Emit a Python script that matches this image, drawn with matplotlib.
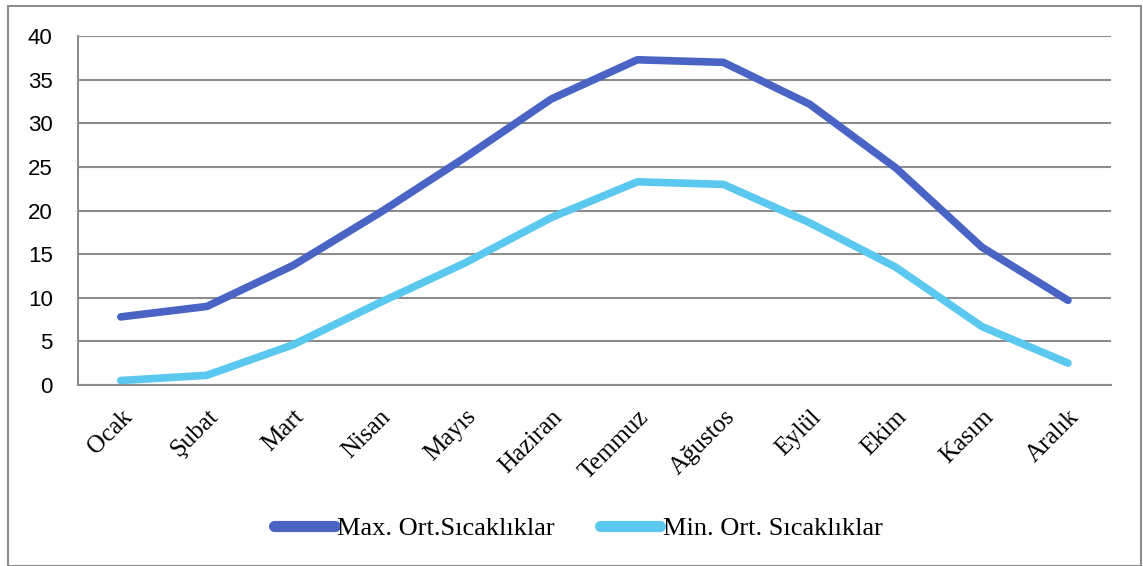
import matplotlib.pyplot as plt
from matplotlib.patches import Rectangle
from matplotlib.lines import Line2D

aylar = ['Ocak', 'Şubat', 'Mart', 'Nisan', 'Mayıs', 'Haziran', 'Temmuz',
         'Ağustos', 'Eylül', 'Ekim', 'Kasım', 'Aralık']
max_ort = [7.8, 9.0, 13.7, 19.7, 26.1, 32.8, 37.3, 37.0, 32.2, 24.9, 15.8, 9.7]
min_ort = [0.5, 1.1, 4.6, 9.4, 14.0, 19.2, 23.3, 23.0, 18.6, 13.5, 6.7, 2.5]
etiketler = ['Max. Ort.Sıcaklıklar', 'Min. Ort. Sıcaklıklar']
renkler = ['#4a64c6', '#5bc8ef']

fig = plt.figure(figsize=(11.43, 5.66), dpi=100)
ax = fig.add_axes([0.068, 0.32, 0.904, 0.616])

x = range(len(aylar))
for seri, renk, et in zip([max_ort, min_ort], renkler, etiketler):
    ax.plot(x, seri, color=renk, lw=5.5, solid_capstyle='round',
            solid_joinstyle='round', label=et)

ax.set_xlim(-0.5, 11.5)
ax.set_ylim(0, 40)
ax.set_yticks(range(0, 41, 5))
ax.yaxis.grid(True, color='#8c8c8c', lw=1.5)
ax.set_axisbelow(True)
for s in ['top', 'right']:
    ax.spines[s].set_visible(False)
for s in ['left', 'bottom']:
    ax.spines[s].set_color('#8c8c8c')
    ax.spines[s].set_linewidth(1.5)
ax.tick_params(length=0)
ax.tick_params(axis='y', labelsize=16, pad=18)
for t in ax.get_yticklabels():
    t.set_fontfamily('Liberation Sans')
ax.set_xticks(list(x))
ax.set_xticklabels(aylar, rotation=45, ha='right', rotation_mode='anchor',
                   fontfamily='Liberation Serif', fontsize=18)
ax.tick_params(axis='x', pad=15)

handles = [Line2D([], [], color=r, lw=8, solid_capstyle='round') for r in renkler]
fig.legend(handles, etiketler, loc='center', bbox_to_anchor=(0.506, 0.067), ncol=2,
           frameon=False, prop={'family': 'Liberation Serif', 'size': 19},
           handlelength=2.3, handletextpad=0.1, columnspacing=1.7)

fig.patches.append(Rectangle((0.007, 0.0), 0.991, 0.989, transform=fig.transFigure,
                             fill=False, edgecolor='#8c8c8c', lw=1.5))

fig.savefig('out.png', dpi=100)
